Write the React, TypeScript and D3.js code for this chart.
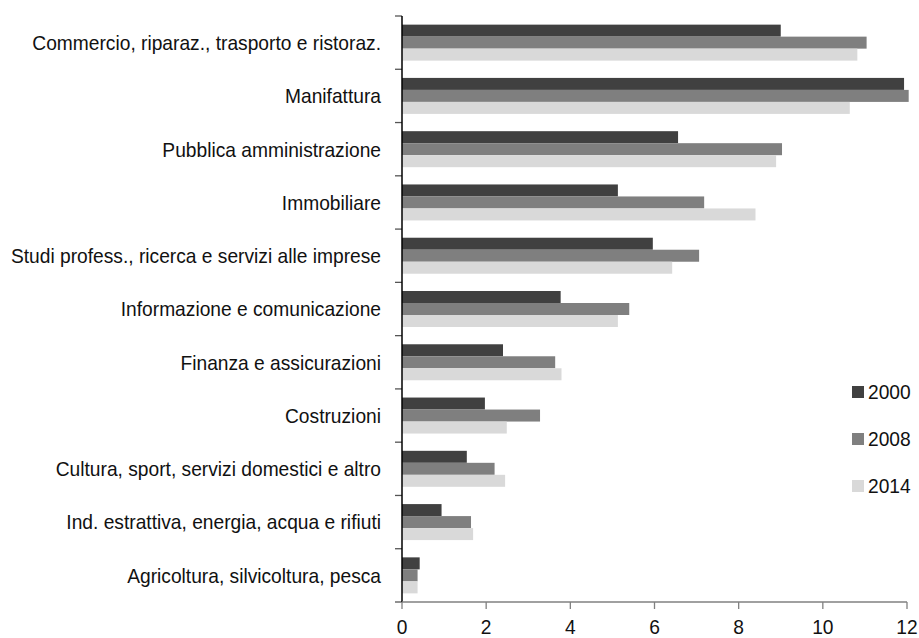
import React from "react";
import * as d3 from "d3";

const categories = [
  "Commercio, riparaz., trasporto e ristoraz.",
  "Manifattura",
  "Pubblica amministrazione",
  "Immobiliare",
  "Studi profess., ricerca e servizi alle imprese",
  "Informazione e comunicazione",
  "Finanza e assicurazioni",
  "Costruzioni",
  "Cultura, sport, servizi domestici e altro",
  "Ind. estrattiva, energia, acqua e rifiuti",
  "Agricoltura, silvicoltura, pesca",
];
const seriesNames = ["2000", "2008", "2014"];
const values2000 = [9.0, 11.93, 6.56, 5.13, 5.96, 3.77, 2.4, 1.97, 1.54, 0.94, 0.42];
const values2008 = [11.04, 12.04, 9.03, 7.18, 7.06, 5.4, 3.64, 3.28, 2.2, 1.64, 0.37];
const values2014 = [10.82, 10.64, 8.89, 8.4, 6.42, 5.13, 3.79, 2.49, 2.45, 1.69, 0.37];
const xTicks = [0, 2, 4, 6, 8, 10, 12];
const colors = ["#404040", "#7f7f7f", "#d9d9d9"];

const W = 919;
const H = 638;
const FONT = "'Liberation Sans', Arial, sans-serif";
const FS = 19.2;
const SY = 1.1;

export default function App() {
  const seriesValues = [values2000, values2008, values2014];
  const x = d3.scaleLinear().domain([0, 12]).range([402, 907]);
  const y = d3.scaleBand<string>().domain(categories).range([16, 602]).padding(0);
  const bw = y.bandwidth();
  const groupH = 36;
  const inner = d3
    .scaleBand<string>()
    .domain(seriesNames)
    .range([(bw - groupH) / 2, (bw + groupH) / 2])
    .padding(0);

  const txt = (
    key: string,
    tx: number,
    ty: number,
    s: string,
    anchor: "start" | "middle" | "end"
  ) => (
    <g key={key} transform={`translate(${tx},${ty}) scale(1,${SY})`}>
      <text
        x={0}
        y={0}
        dy="0.35em"
        textAnchor={anchor}
        fontFamily={FONT}
        fontSize={FS}
        fill="#111"
      >
        {s}
      </text>
    </g>
  );

  const y0 = 16;
  const y1 = 602;
  const ticksY = d3.range(categories.length + 1).map((i) => y0 + i * bw);

  return (
    <svg
      width={W}
      height={H}
      style={{ position: "absolute", left: 0, top: 0, background: "#fff" }}
    >
      {categories.map((c, i) => (
        <g key={c} transform={`translate(0,${y(c)})`}>
          {seriesNames.map((s, j) => (
            <rect
              key={s}
              x={x(0)}
              y={inner(s)}
              width={x(seriesValues[j][i]) - x(0)}
              height={inner.bandwidth()}
              fill={colors[j]}
            />
          ))}
        </g>
      ))}
      {ticksY.map((t, i) => (
        <line key={"yt" + i} x1={x(0) - 7} x2={x(0)} y1={t} y2={t} stroke="#555" strokeWidth={1.3} />
      ))}
      <line x1={x(0)} x2={x(0)} y1={y0} y2={y1} stroke="#000" strokeWidth={1.5} />
      <line x1={x(0)} x2={x(12)} y1={y1} y2={y1} stroke="#808080" strokeWidth={1.3} />
      {xTicks.map((t) => (
        <line key={"xt" + t} x1={x(t)} x2={x(t)} y1={y1} y2={y1 + 7} stroke="#808080" strokeWidth={1.3} />
      ))}
      {xTicks.map((t) => txt("xl" + t, x(t), 627, String(t), "middle"))}
      {categories.map((c) => txt("cl" + c, 381, (y(c) as number) + bw / 2, c, "end"))}
      {seriesNames.map((s, j) => (
        <g key={"lg" + s}>
          <rect x={852} y={386 + j * 47} width={12} height={12} fill={colors[j]} />
          {txt("lt" + s, 868, 392 + j * 47, s, "start")}
        </g>
      ))}
    </svg>
  );
}
